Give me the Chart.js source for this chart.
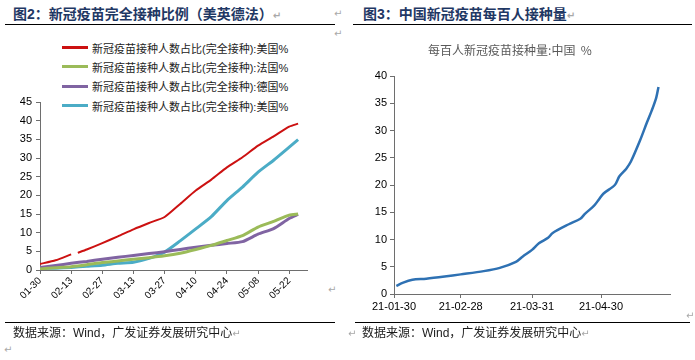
<!DOCTYPE html>
<html>
<head>
<meta charset="utf-8">
<script src="https://cdn.jsdelivr.net/npm/chart.js@4.4.1/dist/chart.umd.min.js"></script>
<style>
  body { margin: 0; width: 695px; height: 360px; background: #fff; position: relative; overflow: hidden;
         font-family: "Liberation Sans", "Noto Sans CJK SC", sans-serif; }
  .abs { position: absolute; }
  .title { font-size: 14px; font-weight: bold; color: #1f3864; line-height: 16px; white-space: nowrap; }
  .rule { height: 0; border-top: 1.5px solid #000; }
  .src { font-size: 12px; color: #1a1a1a; line-height: 14px; white-space: nowrap; }
  .pm { font-size: 10px; color: #a8a8a8; font-family: "DejaVu Sans", sans-serif; line-height: 12px; }
  #legend .row { height: 19.3px; display: flex; align-items: center; font-size: 11px; color: #222; white-space: nowrap; }
  #legend .ln { width: 26px; height: 3px; margin-right: 4px; }
</style>
</head>
<body>

<div class="abs title" style="left:13px; top:6px;">图2：新冠疫苗完全接种比例（美英德法）<span class="pm">↵</span></div>
<div class="abs rule" style="left:5px; top:24px; width:330px;"></div>
<div class="abs pm" style="left:334px; top:8px;">↵</div>
<div class="abs pm" style="left:334px; top:28px;">↵</div>

<div class="abs title" style="left:363px; top:6px;">图3：中国新冠疫苗每百人接种量<span class="pm">↵</span></div>
<div class="abs rule" style="left:353px; top:24px; width:339px;"></div>

<div id="legend" class="abs" style="left:62px; top:38px;"></div>

<canvas id="leftChart" class="abs" style="left:0; top:90px;" width="320" height="232"></canvas>
<canvas id="rightChart" class="abs" style="left:350px; top:36px;" width="340" height="284"></canvas>

<div class="abs pm" style="left:328px; top:284px;">↵</div>
<div class="abs pm" style="left:686px; top:310px;">↵</div>

<div class="abs rule" style="left:5px; top:322px; width:330px;"></div>
<div class="abs rule" style="left:355px; top:322px; width:335px;"></div>
<div class="abs src" style="left:13px; top:326px;">数据来源：Wind，广发证券发展研究中心<span class="pm">↵</span></div>
<div class="abs pm" style="left:348px; top:328px;">↵</div>
<div class="abs src" style="left:362px; top:326px;">数据来源：Wind，广发证券发展研究中心<span class="pm">↵</span></div>
<div class="abs pm" style="left:4px; top:344px;">↵</div>

<script>
// 图2: days after 2021-01-30
const leftDays = [0, 7, 14, 21, 28, 35, 42, 49, 56, 63, 70, 77, 84, 91, 98, 105, 112, 116];
const usDays = [0, 7, 14, 15, 17, 21, 28, 35, 42, 49, 56, 63, 70, 77, 84, 91, 98, 105, 112, 116];
const usValues = [1.6, 2.6, 4.2, null, 4.6, 5.5, 7.2, 9.0, 10.9, 12.6, 14.2, 17.7, 21.3, 24.2, 27.5, 30.2, 33.3, 35.8, 38.4, 39.2];
const frValues = [0.3, 0.6, 0.9, 1.4, 2.0, 2.4, 2.9, 3.3, 3.8, 4.5, 5.5, 6.6, 7.9, 9.2, 11.5, 13.0, 14.7, 15.0];
const deValues = [0.7, 1.2, 1.8, 2.3, 2.9, 3.4, 3.9, 4.4, 4.9, 5.5, 6.1, 6.6, 7.1, 7.6, 9.6, 11.1, 13.8, 14.9];
const ukValues = [0.4, 0.5, 0.7, 1.0, 1.3, 1.8, 2.1, 3.1, 4.8, 7.8, 11.0, 14.3, 18.6, 22.2, 26.2, 29.4, 32.9, 34.9];
const leftTickLabels = ["01-30", "02-13", "02-27", "03-13", "03-27", "04-10", "04-24", "05-08", "05-22"];
const leftNames = [
  "新冠疫苗接种人数占比(完全接种):美国%",
  "新冠疫苗接种人数占比(完全接种):法国%",
  "新冠疫苗接种人数占比(完全接种):德国%",
  "新冠疫苗接种人数占比(完全接种):美国%"
];

// 图3: days after 2021-01-30
const cnDays = [1, 4, 8, 14, 22, 29, 39, 46, 53, 56, 60, 63, 67, 69, 76, 81, 83, 87, 89, 91, 96, 98, 101, 103, 107, 110, 112, 114, 115];
const cnValues = [1.5, 2.1, 2.6, 2.8, 3.2, 3.6, 4.2, 4.8, 5.9, 6.9, 8.1, 9.3, 10.3, 11.2, 12.8, 13.8, 14.7, 16.2, 17.3, 18.4, 20.0, 21.6, 23.0, 24.3, 28.2, 31.5, 33.6, 36.0, 38.0];
const rightTickDays = [0, 29, 60, 90];
const rightTickLabels = ["21-01-30", "21-02-28", "21-03-31", "21-04-30"];
const rightTitle = "每百人新冠疫苗接种量:中国  %";

const toPoints = (xs, ys) => xs.map((x, i) => ({ x: x, y: ys[i] }));

const axisColor = "#6e6e6e";
const tickFont = { family: "Liberation Sans", size: 11 };

const leftChart = new Chart(document.getElementById("leftChart"), {
  type: "line",
  data: {
    datasets: [
      { label: leftNames[0], data: toPoints(usDays, usValues), borderColor: "#cc1111", backgroundColor: "#cc1111", borderWidth: 2 },
      { label: leftNames[1], data: toPoints(leftDays, frValues), borderColor: "#9bbb59", backgroundColor: "#9bbb59", borderWidth: 3 },
      { label: leftNames[2], data: toPoints(leftDays, deValues), borderColor: "#8064a2", backgroundColor: "#8064a2", borderWidth: 3 },
      { label: leftNames[3], data: toPoints(leftDays, ukValues), borderColor: "#4bacc6", backgroundColor: "#4bacc6", borderWidth: 3 }
    ]
  },
  options: {
    responsive: false,
    animation: false,
    spanGaps: false,
    elements: { point: { radius: 0 }, line: { tension: 0.2 } },
    layout: { padding: { top: 12, right: 13 } },
    plugins: { legend: { display: false }, tooltip: { enabled: false } },
    scales: {
      x: {
        type: "linear",
        min: 0,
        max: 120,
        afterFit: (s) => { s.height = 52; },
        grid: { drawOnChartArea: false, tickLength: 4, color: axisColor },
        border: { color: axisColor },
        ticks: {
          stepSize: 14,
          includeBounds: false,
          autoSkip: false,
          minRotation: 45,
          maxRotation: 45,
          padding: 1,
          color: "#000",
          font: { family: "Liberation Sans", size: 10 },
          callback: (v) => leftTickLabels[v / 14]
        }
      },
      y: {
        min: 0,
        max: 45,
        afterFit: (s) => { s.width = 40; },
        grid: { drawOnChartArea: false, tickLength: 4, color: axisColor },
        border: { color: axisColor },
        ticks: { stepSize: 5, padding: 4, color: "#000", font: tickFont }
      }
    }
  }
});

// legend as html, one row per dataset
const legendBox = document.getElementById("legend");
leftChart.data.datasets.forEach((ds) => {
  const row = document.createElement("div");
  row.className = "row";
  row.innerHTML = '<span class="ln" style="background:' + ds.borderColor + '"></span>' + ds.label;
  legendBox.appendChild(row);
});

new Chart(document.getElementById("rightChart"), {
  type: "line",
  data: {
    datasets: [
      { label: rightTitle, data: toPoints(cnDays, cnValues), borderColor: "#2e71b3", borderWidth: 2.5, tension: 0.3 }
    ]
  },
  options: {
    responsive: false,
    animation: false,
    elements: { point: { radius: 0 } },
    layout: { padding: { right: 20 } },
    plugins: {
      legend: { display: false },
      tooltip: { enabled: false },
      title: {
        display: true,
        text: rightTitle,
        color: "#595959",
        font: { family: "Noto Sans CJK SC", size: 12, weight: "normal" },
        padding: { top: 7, bottom: 18.6 }
      }
    },
    scales: {
      x: {
        type: "linear",
        min: 0,
        max: 120,
        afterBuildTicks: (s) => { s.ticks = rightTickDays.map((d) => ({ value: d })); },
        afterFit: (s) => { s.height = 26; },
        grid: { drawOnChartArea: false, tickLength: 4, color: axisColor },
        border: { color: axisColor },
        ticks: {
          autoSkip: false,
          maxRotation: 0,
          padding: 2,
          color: "#000",
          font: tickFont,
          callback: (v, i) => rightTickLabels[i]
        }
      },
      y: {
        min: 0,
        max: 40,
        afterFit: (s) => { s.width = 44; },
        grid: { drawOnChartArea: false, tickLength: 4, color: axisColor },
        border: { color: axisColor },
        ticks: { stepSize: 5, padding: 3, color: "#000", font: tickFont }
      }
    }
  }
});
</script>
</body>
</html>
